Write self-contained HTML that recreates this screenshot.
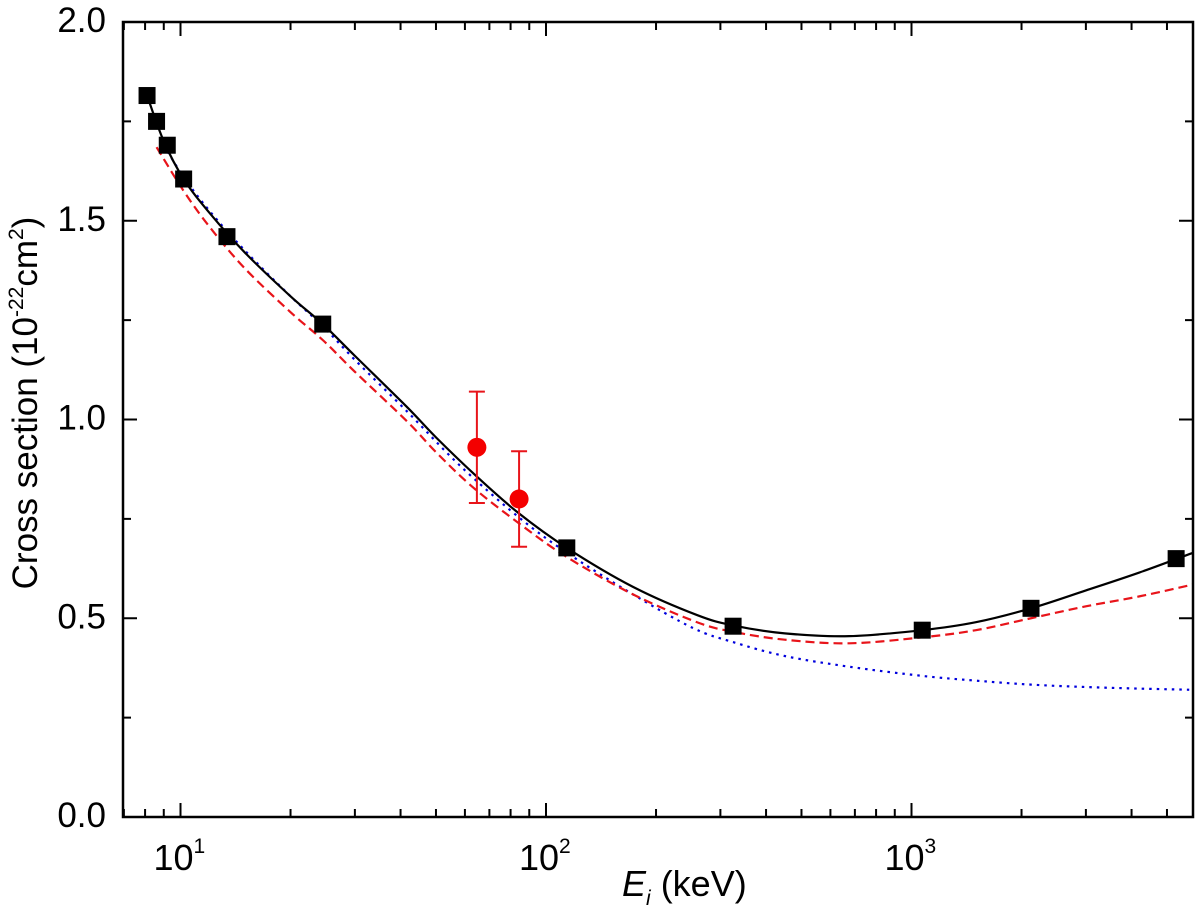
<!DOCTYPE html>
<html><head><meta charset="utf-8"><style>
body{margin:0;background:#fff}
svg{display:block;font-family:"Liberation Sans",Arial,sans-serif}
</style></head><body>
<svg id="chart" width="1200" height="914" viewBox="0 0 1200 914" xmlns="http://www.w3.org/2000/svg"></svg>
<script>
const squareE=[8.1,8.6,9.2,10.2,13.4,24.5,114,325,1070,2123,5297];
const squareS=[1.815,1.75,1.69,1.605,1.46,1.24,0.677,0.48,0.47,0.525,0.65];
const circleE=[64.7,84.4];
const circleS=[0.93,0.80];
const circleLo=[0.79,0.68];
const circleHi=[1.07,0.92];
const blackE=[8.1,9,10.2,12,15,20,24.5,30,41.7,50,64.4,84,114,173,259,325,450,676,1070,1500,2123,3000,4200,5900];
const blackS=[1.815,1.70,1.605,1.52,1.42,1.31,1.24,1.16,1.031,0.955,0.858,0.765,0.677,0.579,0.508,0.482,0.462,0.455,0.47,0.49,0.525,0.57,0.615,0.665];
const redE=[8.6,10.2,12,15,20,24.5,30,41.7,50,63,84,114,173,259,325,450,676,1070,1500,2123,3000,4200,5900];
const redS=[1.685,1.575,1.485,1.38,1.27,1.2,1.12,0.995,0.918,0.83,0.74,0.654,0.56,0.49,0.466,0.446,0.437,0.452,0.47,0.5,0.53,0.555,0.585];
const blueE=[9,10.2,12,15,20,24.5,30,41.7,58,84,114,173,253,325,450,676,1070,1500,2123,3000,4200,5900];
const blueS=[1.69,1.61,1.525,1.425,1.31,1.235,1.15,1.02,0.885,0.755,0.665,0.56,0.475,0.44,0.405,0.378,0.355,0.343,0.333,0.327,0.323,0.32];
const yTicks=[0,0.5,1.0,1.5,2.0];
const yLabels=["0.0","0.5","1.0","1.5","2.0"];
const xDecades=[1,2,3];

const L=123,R=1193,T=22,B=817;
const lx0=1-(180.5-L)/365.5;
function X(e){return L+(Math.log10(e)-lx0)*365.5;}
function Y(s){return B-s*(B-T)/2;}
const NS="http://www.w3.org/2000/svg";
const svg=document.getElementById('chart');
function mk(t,a,p){const el=document.createElementNS(NS,t);for(const k in a)el.setAttribute(k,a[k]);(p||svg).appendChild(el);return el;}

const xmin=Math.pow(10,lx0),xmax=Math.pow(10,lx0+(R-L)/365.5);
for(let d=0;d<4;d++){for(let m=1;m<10;m++){const e=m*Math.pow(10,d);if(e<xmin||e>xmax)continue;const len=m===1?14:8;const x=X(e);
const t1=mk('line',{x1:x,x2:x,y1:B,y2:B-len,stroke:'#000','stroke-width':2});

const t2=mk('line',{x1:x,x2:x,y1:T,y2:T+len,stroke:'#000','stroke-width':2});
}}
for(let v=0;v<=2.001;v+=0.25){const len=(Math.abs(v*2-Math.round(v*2))<1e-6)?14:8;const y=Y(v);
const a=mk('line',{x1:L,x2:L+len,y1:y,y2:y,stroke:'#000','stroke-width':2});

const b=mk('line',{x1:R,x2:R-len,y1:y,y2:y,stroke:'#000','stroke-width':2});
}
yTicks.forEach((v,i)=>{const t=mk('text',{x:L-17,y:Y(v)+10,'text-anchor':'end','font-size':35});t.textContent=yLabels[i];
});
xDecades.forEach(d=>{const t=mk('text',{x:X(Math.pow(10,d))-27,y:870,'font-size':36});

t.innerHTML='10<tspan dy="-17" font-size="21">'+d+'</tspan>';});

function curve(E,S,col,dash,w,name){
  const p=E.map((e,i)=>[X(e),Y(S[i])]);
  let d='M'+p[0][0]+','+p[0][1];
  for(let i=0;i<p.length-1;i++){const p0=p[Math.max(0,i-1)],p1=p[i],p2=p[i+1],p3=p[Math.min(p.length-1,i+2)];
    const c1=[p1[0]+(p2[0]-p0[0])/6,p1[1]+(p2[1]-p0[1])/6],c2=[p2[0]-(p3[0]-p1[0])/6,p2[1]-(p3[1]-p1[1])/6];
    d+=' C'+c1+' '+c2+' '+p2;}
  const el=mk('path',{d:d,fill:'none',stroke:col,'stroke-width':w});
  if(dash)el.setAttribute('stroke-dasharray',dash);
  
}
curve(blueE,blueS,'#0000dd','2.5 5',2.2,'blue-dotted-curve');
curve(redE,redS,'#e8141a','9 5',2.2,'red-dashed-curve');
curve(blackE,blackS,'#000',null,2.2,'black-solid-curve');

squareE.forEach((e,i)=>{const r=mk('rect',{x:X(e)-8.5,y:Y(squareS[i])-8.5,width:17,height:17,fill:'#000'});
});
circleE.forEach((e,i)=>{const x=X(e);
const g=mk('g',{stroke:'#e8141a','stroke-width':2});

mk('line',{x1:x,x2:x,y1:Y(circleLo[i]),y2:Y(circleHi[i])},g);
mk('line',{x1:x-8,x2:x+8,y1:Y(circleLo[i]),y2:Y(circleLo[i])},g);
mk('line',{x1:x-8,x2:x+8,y1:Y(circleHi[i]),y2:Y(circleHi[i])},g);
const c=mk('circle',{cx:x,cy:Y(circleS[i]),r:9.5,fill:'#f40000'});
});

const fr=mk('rect',{x:L,y:T,width:R-L,height:B-T,fill:'none',stroke:'#000','stroke-width':2.5});

const xt=mk('text',{x:622,y:896,'font-size':36});

xt.innerHTML='<tspan font-style="italic">E</tspan><tspan font-style="italic" font-size="21" dy="9">i</tspan><tspan dy="-9"> (keV)</tspan>';
const yt=mk('text',{x:0,y:0,'text-anchor':'middle','font-size':35,transform:'translate(37,403) rotate(-90)'});

yt.innerHTML='Cross section (10<tspan font-size="21" dy="-14">-22</tspan><tspan dy="14">cm</tspan><tspan font-size="21" dy="-14">2</tspan><tspan dy="14">)</tspan>';
</script>
</body></html>
